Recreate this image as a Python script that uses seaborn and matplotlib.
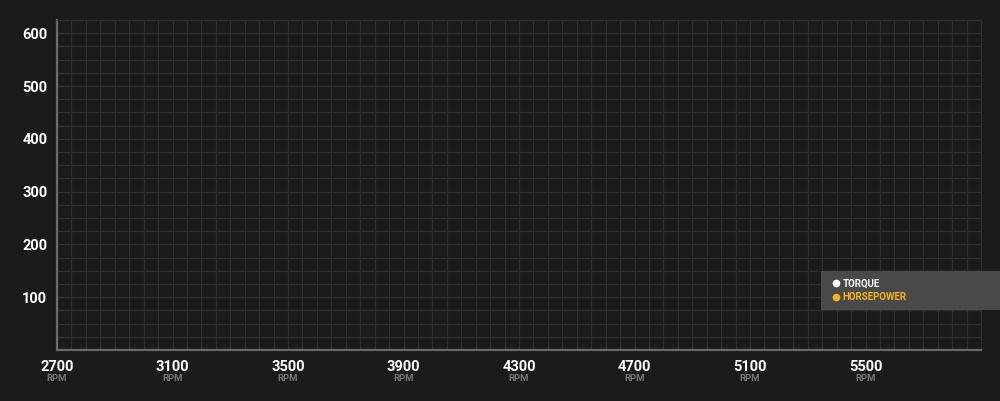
import numpy as np
import pandas as pd
import seaborn as sns
import matplotlib.pyplot as plt
from matplotlib.lines import Line2D
from matplotlib.patches import Rectangle
from matplotlib.ticker import MultipleLocator

# Chart data (the reference shows no plotted values)
rpm = []
torque = []
horsepower = []

series_names = ["TORQUE", "HORSEPOWER"]
series_colors = ["#ffffff", "#f5b41c"]
x_ticks = [2700, 3100, 3500, 3900, 4300, 4700, 5100, 5500]
y_ticks = [100, 200, 300, 400, 500, 600]

bg = "#1b1b1b"
grid_col = "#2e2e2e"
spine_col = "#6a6a6a"

sns.set_theme(style="dark")
plt.rcParams["font.family"] = ["Roboto", "DejaVu Sans"]

fig = plt.figure(figsize=(10, 4.01), dpi=100, facecolor=bg)
ax = fig.add_axes([0.057, 0.127, 0.924, 0.823])
ax.set_facecolor(bg)

df = pd.DataFrame({"rpm": rpm, "torque": torque, "horsepower": horsepower})
for name, col, color in zip(series_names, ["torque", "horsepower"], series_colors):
    if len(df):
        sns.lineplot(data=df, x="rpm", y=col, color=color, ax=ax, label=name)

ax.set_xlim(2700, 5900)
ax.set_ylim(0, 625)
ax.set_xticks(x_ticks)
ax.set_yticks(y_ticks)
ax.xaxis.set_minor_locator(MultipleLocator(50))
ax.yaxis.set_minor_locator(MultipleLocator(25))
ax.grid(which="both", color=grid_col, linewidth=0.9)
ax.set_axisbelow(True)

ax.tick_params(axis="x", which="major", direction="in", length=9.5, width=1,
               color="#8a8a8a", pad=7, labelsize=10.5, labelcolor="white")
ax.tick_params(axis="y", which="major", direction="in", length=10, width=1,
               color="#8a8a8a", pad=7, labelsize=10.5, labelcolor="white")
ax.tick_params(which="minor", length=0)
for lbl in ax.get_xticklabels() + ax.get_yticklabels():
    lbl.set_fontweight("bold")
ax.set_xlabel("")
ax.set_ylabel("")

for side in ["left", "bottom"]:
    ax.spines[side].set_visible(True)
    ax.spines[side].set_color(spine_col)
    ax.spines[side].set_linewidth(1.6)
for side in ["top", "right"]:
    ax.spines[side].set_visible(True)
    ax.spines[side].set_color(grid_col)
    ax.spines[side].set_linewidth(0.9)

# small "RPM" under each x tick
for xt in x_ticks:
    ax.text(xt, -0.085, "RPM", transform=ax.get_xaxis_transform(),
            ha="center", va="center", fontsize=6.8, color="#777777",
            fontweight="bold")

# legend box
fig.patches.append(Rectangle((0.821, 0.227), 0.2, 0.097, transform=fig.transFigure,
                             facecolor="#4c4c4c", edgecolor="none", alpha=0.95,
                             zorder=5))
handles = [Line2D([], [], linestyle="none", marker="o", markersize=4.5,
                  markerfacecolor=c, markeredgecolor=c) for c in series_colors]
leg = fig.legend(handles, series_names, loc="center left",
                 bbox_to_anchor=(0.828, 0.2755), bbox_transform=fig.transFigure,
                 frameon=False, handlelength=0.6, handletextpad=0.4,
                 labelspacing=0.35, borderpad=0, labelcolor=series_colors,
                 prop={"size": 7, "weight": "bold"})
leg.set_zorder(6)

plt.savefig("out.png", dpi=100, facecolor=bg)
